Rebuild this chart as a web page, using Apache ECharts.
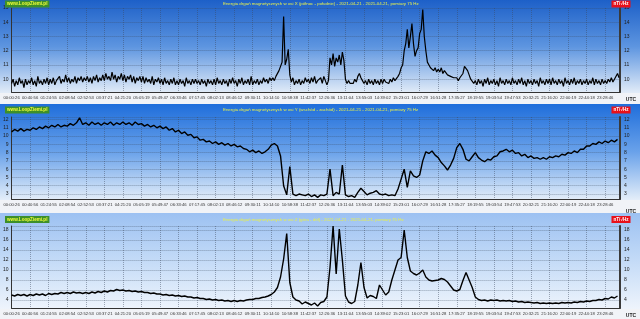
<!DOCTYPE html>
<html><head><meta charset="utf-8">
<script src="https://cdn.jsdelivr.net/npm/echarts@6/dist/echarts.min.js"></script>
<style>html,body{margin:0;padding:0;background:#fff}#c{width:640px;height:319px}</style>
</head><body><div id="c"></div>
<script>
const timeLabels = ["00:00:26","00:40:56","01:24:55","02:08:54","02:52:53","03:37:21","04:21:20","05:05:19","05:49:47","06:33:46","07:17:45","08:02:13","08:46:12","09:30:11","10:14:10","10:58:38","11:42:37","12:26:36","13:11:04","13:55:03","14:39:02","15:23:01","16:07:29","16:51:28","17:35:27","18:19:55","19:03:54","19:47:53","20:32:21","21:16:20","22:00:19","22:44:18","23:28:46"];
const titles = [
 "Energia drgań magnetycznych w osi X (północ - południe) - 2021-04-21 - 2021-04-21, pomiary 75 Hz",
 "Energia drgań magnetycznych w osi Y (wschód - zachód) - 2021-04-21 - 2021-04-21, pomiary 75 Hz",
 "Energia drgań magnetycznych w osi Z (góra - dół) - 2021-04-21 - 2021-04-21, pomiary 75 Hz"
];
const logoText = "www.LoopZiemi.pl";
const unitText = "nT/√Hz";
// X axis (north-south): 12 samples per time-label step
const xValues = [
9.7,10.0,9.5,9.9,9.6,10.1,9.7,9.9,9.4,10.0,9.6,9.9,
9.7,10.1,9.6,9.9,9.5,10.2,9.7,9.9,9.6,10.0,9.7,10.1,
9.6,10.0,9.7,10.1,9.6,9.9,9.8,10.2,9.7,10.0,9.8,10.3,
9.8,10.1,9.7,10.0,9.8,10.2,9.7,10.1,9.9,10.2,9.8,10.1,
9.9,10.2,9.8,10.1,9.7,10.2,9.9,10.3,9.8,10.1,9.9,10.3,
9.9,10.4,10.0,10.2,9.9,10.5,10.0,10.3,9.8,10.2,10.0,10.4,
9.9,10.3,9.8,10.2,10.0,10.3,9.8,10.2,9.7,10.1,9.9,10.2,
9.8,10.2,9.7,10.1,9.8,10.0,9.7,10.2,9.6,10.0,9.8,10.1,
9.7,10.0,9.6,10.1,9.7,9.9,9.6,10.0,9.7,10.1,9.6,9.9,
9.6,10.0,9.7,9.9,9.5,10.1,9.7,9.9,9.6,10.0,9.7,10.0,
9.7,9.9,9.6,10.0,9.7,9.9,9.5,10.0,9.7,9.9,9.6,10.0,
9.6,10.1,9.7,9.9,9.6,10.0,9.7,9.9,9.5,10.0,9.7,10.1,
9.7,9.9,9.5,10.0,9.7,10.1,9.6,9.9,9.7,10.0,9.6,10.2,
9.6,9.9,9.7,10.0,9.6,9.9,9.7,10.1,9.8,10.0,9.7,10.1,
9.9,10.1,9.9,10.2,10.3,10.6,10.9,11.2,14.4,11.0,11.4,12.1,
10.3,9.8,10.1,9.6,9.9,9.7,10.0,9.6,9.9,9.7,10.1,9.8,
10.0,9.7,10.1,9.8,10.2,9.7,9.9,9.8,10.1,9.7,10.2,9.9,
9.6,9.9,11.5,11.0,11.8,10.9,11.5,11.2,11.7,11.0,11.9,11.3,
10.0,9.7,9.9,9.7,9.8,9.7,10.0,9.8,10.2,10.4,10.1,9.9,
9.7,9.9,9.6,10.0,9.7,9.9,9.6,10.0,9.7,9.9,9.6,10.0,
9.7,10.0,9.8,9.9,9.7,10.0,9.8,10.1,9.9,10.0,10.2,10.4,
10.8,11.0,12.0,12.5,13.5,12.2,13.0,13.9,12.5,11.6,12.0,12.2,
13.2,13.5,14.9,13.0,12.0,11.2,11.0,10.8,10.9,10.6,10.8,10.5,
10.7,10.5,10.8,10.4,10.6,10.5,10.3,10.4,10.2,10.3,10.1,10.0,
10.1,9.9,10.1,10.0,10.4,10.9,11.0,10.6,10.3,10.0,9.9,9.7,
9.9,9.6,10.0,9.7,9.9,9.5,10.0,9.7,10.1,9.6,9.9,9.7,
10.0,9.6,9.9,9.5,10.1,9.7,9.9,9.6,10.0,9.7,9.9,9.6,
10.1,9.7,9.9,9.6,10.0,9.7,10.1,9.6,9.9,9.5,10.0,9.7,
9.9,9.6,10.0,9.7,9.9,9.5,10.1,9.7,9.9,9.6,10.0,9.7,
10.0,9.6,10.1,9.7,9.9,9.6,10.0,9.7,9.9,9.5,10.1,9.7,
9.9,9.6,10.0,9.7,10.1,9.6,9.9,9.7,10.0,9.6,9.9,9.7,
10.0,9.6,9.9,9.7,10.1,9.6,10.0,9.7,9.9,9.6,10.0,9.7,
9.9,9.7,10.0,9.8,10.1,9.8,10.0,9.9,10.4,10.1
];
// Y axis (east-west): 6 samples per time-label step
const yValues = [
10.5,10.8,10.6,10.9,10.6,10.8, 10.7,11.0,10.8,11.1,10.9,11.2, 11.0,11.3,11.1,11.4,11.1,11.3, 11.2,11.5,11.3,11.6,12.2,11.4,
11.6,11.3,11.7,11.4,11.6,11.3, 11.6,11.4,11.7,11.3,11.6,11.4, 11.7,11.4,11.6,11.3,11.7,11.4, 11.5,11.2,11.4,11.1,11.3,11.0,
11.2,10.9,11.1,10.7,10.9,10.5, 10.7,10.3,10.5,10.1,10.2,9.8, 9.9,9.5,9.6,9.3,9.4,9.1, 9.3,9.0,9.2,8.9,9.1,8.8,
9.0,8.7,8.8,8.5,8.4,8.1, 8.3,8.0,8.2,7.9,8.1,8.4, 8.9,9.1,8.8,7.6,4.0,2.9, 6.3,3.0,2.8,3.0,2.9,2.8,
3.0,2.7,2.9,2.6,2.9,2.8, 3.0,6.0,2.8,3.2,3.0,6.5, 2.9,2.7,2.8,2.6,3.2,3.7, 3.3,2.9,3.1,3.2,3.4,3.0,
2.9,3.0,2.8,2.9,2.8,3.6, 4.8,6.0,3.8,5.8,5.2,5.0, 5.3,7.0,8.1,7.9,8.2,7.7, 7.4,6.8,6.4,5.9,6.5,7.3,
8.6,9.1,8.4,7.2,7.0,7.5, 8.0,7.4,7.1,6.9,7.2,7.1, 7.5,7.6,8.1,8.2,8.4,8.1, 8.3,7.9,8.0,7.6,7.8,7.4,
7.6,7.3,7.4,7.2,7.4,7.2, 7.5,7.4,7.6,7.5,7.8,7.7, 8.0,7.9,8.2,8.0,8.4,8.4, 8.8,8.8,9.1,9.0,9.3,9.1,
9.4,9.2,9.5,9.3,9.6
];
// Z axis (up-down): 6 samples per time-label step
const zValues = [
5.0,4.8,5.1,4.9,5.1,4.8, 5.1,4.9,5.2,5.0,5.2,4.9, 5.3,5.1,5.3,5.2,5.5,5.3, 5.5,5.3,5.6,5.4,5.5,5.3,
5.5,5.3,5.6,5.4,5.7,5.5, 5.8,5.6,5.9,5.8,6.1,5.9, 6.0,5.8,5.9,5.7,5.8,5.6, 5.7,5.5,5.5,5.3,5.4,5.2,
5.2,5.0,5.1,4.9,5.0,4.8, 4.9,4.7,4.8,4.6,4.6,4.4, 4.5,4.3,4.3,4.1,4.2,4.0, 4.1,3.9,4.0,3.8,3.9,3.7,
3.9,3.7,3.9,3.8,4.0,4.1, 4.1,4.3,4.3,4.5,4.6,4.8, 5.1,5.6,6.5,8.6,12.2,17.3, 7.5,4.6,4.0,3.8,3.2,3.6,
3.3,3.0,3.4,2.8,3.5,3.7, 4.6,10.5,18.8,9.2,18.2,12.0, 4.8,3.6,3.3,3.7,7.0,11.5, 6.5,4.4,4.9,4.7,4.3,7.0,
6.0,5.0,5.6,8.0,10.0,12.0, 12.5,18.0,12.5,9.8,9.3,9.0, 9.4,10.0,8.6,8.0,7.8,7.9, 8.0,8.3,8.1,7.6,6.8,6.0,
5.8,6.1,7.9,9.5,8.0,6.5, 4.6,4.1,3.9,4.0,3.8,4.0, 3.9,4.0,3.8,3.9,3.8,3.9, 3.7,3.8,3.6,3.7,3.5,3.6,
3.5,3.4,3.5,3.3,3.4,3.3, 3.4,3.3,3.4,3.3,3.5,3.4, 3.5,3.4,3.6,3.5,3.7,3.6, 3.8,3.7,3.9,3.9,4.1,4.0,
4.3,4.2,4.6,4.4,4.8
];

const FONT = '"Liberation Sans", Arial, sans-serif';
const panels = [
 {data: xValues, perSlot: 12, lw: 1.2, title: titles[0], top: 8, height: 84, min: 9.1, max: 15, split: 6,
  bg: [0, 93], strip: [93, 104], colors: ['#1d60c8', '#5d95e0', '#e2ecf8'], head: 4, utc: 100},
 {data: yValues, perSlot: 6, lw: 1.4, title: titles[1], top: 117, height: 82, min: 2.4, max: 12.3, split: 10,
  bg: [104, 200], strip: [200, 213], colors: ['#1f6edb', '#6aa2ea', '#e4eef9'], head: 110, utc: 212},
 {data: zValues, perSlot: 6, lw: 1.4, title: titles[2], top: 226, height: 82, min: 2.4, max: 18.8, split: 8,
  bg: [213, 309], strip: [309, 319], colors: ['#9cc1f2', '#c4dbf7', '#eef4fc'], head: 219.5, utc: 316}
];
const X_MAX = 32.8;
const intLabel = v => Math.abs(v - Math.round(v)) < 1e-6 ? String(Math.round(v)) : '';
const gridLine = {show: true, lineStyle: {type: 'dotted', color: 'rgba(60,70,90,0.45)', width: 1}};

const grids = [], xAxes = [], yAxes = [], series = [], graphics = [];
panels.forEach((p, k) => {
  grids.push({left: 10, right: 20, top: p.top, height: p.height, show: false});
  xAxes.push({type: 'value', gridIndex: k, min: 0, max: X_MAX, interval: 1,
    axisLine: {show: true, onZero: false, lineStyle: {color: '#333', width: 1}},
    axisTick: {show: false},
    axisLabel: {fontSize: 4.2, color: '#333', margin: 4, fontFamily: FONT,
      formatter: v => (Math.abs(v - Math.round(v)) < 1e-6 && timeLabels[Math.round(v)]) || ''},
    splitLine: gridLine});
  yAxes.push({type: 'value', gridIndex: k, position: 'left', min: p.min, max: p.max, splitNumber: p.split,
    axisLine: {show: true, lineStyle: {color: '#333', width: 1}},
    axisTick: {show: false},
    axisLabel: {fontSize: 5, color: '#222', margin: 3, fontFamily: FONT, formatter: intLabel},
    splitLine: gridLine});
  yAxes.push({type: 'value', gridIndex: k, position: 'right', min: p.min, max: p.max, splitNumber: p.split,
    axisLine: {show: true, lineStyle: {color: '#3a3a3a', width: 2}},
    axisTick: {show: false},
    axisLabel: {fontSize: 5, color: '#222', margin: 4, fontFamily: FONT, formatter: intLabel},
    splitLine: {show: false}});
  series.push({type: 'line', xAxisIndex: k, yAxisIndex: 2 * k, showSymbol: false, symbol: 'none',
    lineStyle: {color: '#000', width: p.lw}, animation: false,
    data: p.data.map((v, i) => [i / p.perSlot, v])});
  graphics.push({type: 'rect', z: -20, shape: {x: 0, y: p.bg[0], width: 640, height: p.bg[1] - p.bg[0]},
    style: {fill: new echarts.graphic.LinearGradient(0, 0, 0, 1, [
      {offset: 0, color: p.colors[0]}, {offset: 0.5, color: p.colors[1]}, {offset: 1, color: p.colors[2]}])}});
  graphics.push({type: 'rect', z: -20, shape: {x: 0, y: p.strip[0], width: 640, height: p.strip[1] - p.strip[0]},
    style: {fill: '#f1f3f7'}});
  graphics.push({type: 'text', z: 50, x: 5, y: p.head,
    style: {text: logoText, fill: '#f2ff3a', font: 'bold 4.6px ' + FONT, verticalAlign: 'middle',
      backgroundColor: '#3d8f2a', padding: [1, 2]}});
  graphics.push({type: 'text', z: 50, x: 223, y: p.head,
    style: {text: p.title, fill: '#e8f04a', font: '4.4px ' + FONT, verticalAlign: 'middle'}});
  graphics.push({type: 'text', z: 50, x: 621, y: p.head,
    style: {text: unitText, fill: '#fff', font: 'bold 4.6px ' + FONT, align: 'center', verticalAlign: 'middle',
      backgroundColor: '#e8101a', padding: [1, 2]}});
  graphics.push({type: 'text', z: 50, x: 631, y: p.utc,
    style: {text: 'UTC', fill: '#222', font: 'bold 5px ' + FONT, align: 'center', verticalAlign: 'middle'}});
});

const chart = echarts.init(document.getElementById('c'), null, {renderer: 'canvas', width: 640, height: 319});
chart.setOption({
  animation: false,
  backgroundColor: '#ffffff',
  grid: grids, xAxis: xAxes, yAxis: yAxes, series: series,
  graphic: {elements: graphics}
});
</script></body></html>
